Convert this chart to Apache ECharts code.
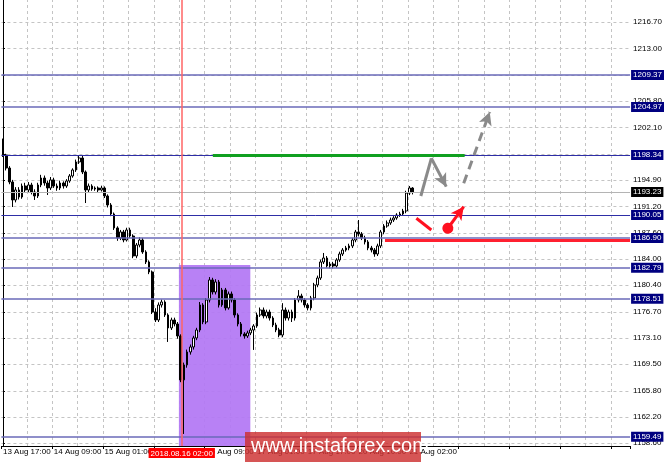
<!DOCTYPE html>
<html><head><meta charset="utf-8">
<script src="https://cdn.jsdelivr.net/npm/echarts@6/dist/echarts.min.js"></script>
<style>html,body{margin:0;padding:0;background:#fff}#c{width:665px;height:462px}</style>
</head><body><div id="c"></div>
<script>
// ---- data (XAUUSD H1) ----
const opens = [
1200.40,1198.33,1196.54,1194.61,1192.13,1193.51,1192.54,1194.06,1193.51,1194.20,
1193.23,1192.68,1194.20,1195.16,1194.47,1193.78,1194.89,1194.06,1193.78,1194.47,
1194.06,1194.75,1195.44,1196.27,1197.37,1197.92,1195.99,1193.51,1194.06,1193.64,
1193.78,1193.51,1193.78,1192.68,1191.44,1190.20,1188.27,1186.89,1187.72,1186.61,
1187.99,1187.16,1184.41,1185.92,1186.61,1184.96,1183.58,1182.20,1176.68,1175.58,
1177.65,1178.06,1176.27,1174.48,1175.58,1175.03,1173.37,1167.31,1169.38,1171.17,
1171.86,1173.10,1174.20,1177.65,1175.30,1178.34,1181.10,1179.44,1180.82,1177.65,
1179.72,1177.24,1179.17,1178.34,1176.27,1175.03,1173.65,1173.37,1173.79,1174.20,
1174.75,1176.27,1176.96,1176.13,1176.68,1175.85,1174.89,1174.20,1173.51,1176.96,
1175.85,1176.68,1175.85,1178.34,1178.89,1178.34,1177.65,1177.24,1178.62,1180.41,
1181.37,1183.58,1184.13,1183.03,1183.30,1183.03,1183.86,1184.68,1185.23,1185.51,
1185.79,1186.61,1187.72,1187.44,1186.89,1186.34,1185.51,1185.23,1184.68,1185.79,
1187.72,1188.54,1188.96,1189.37,1189.65,1190.06,1190.20,1190.61,1193.09,1193.78];
const closes = [
1198.33,1196.54,1194.61,1192.13,1193.51,1192.54,1194.06,1193.51,1194.20,1193.23,
1192.68,1194.20,1195.16,1194.47,1193.78,1194.89,1194.06,1193.78,1194.47,1194.06,
1194.75,1195.44,1196.27,1197.37,1197.92,1195.99,1193.51,1194.06,1193.64,1193.78,
1193.51,1193.78,1192.68,1191.44,1190.20,1188.27,1186.89,1187.72,1186.61,1187.99,
1187.16,1184.41,1185.92,1186.61,1184.96,1183.58,1182.20,1176.68,1175.58,1177.65,
1178.06,1176.27,1174.48,1175.58,1175.03,1173.37,1167.31,1169.38,1171.17,1171.86,
1173.10,1174.20,1177.65,1175.30,1178.34,1181.10,1179.44,1180.82,1177.65,1179.72,
1177.24,1179.17,1178.34,1176.27,1175.03,1173.65,1173.37,1173.79,1174.20,1174.75,
1176.27,1176.96,1176.13,1176.68,1175.85,1174.89,1174.20,1173.51,1176.96,1175.85,
1176.68,1175.85,1178.34,1178.89,1178.34,1177.65,1177.24,1178.62,1180.41,1181.37,
1183.58,1184.13,1183.03,1183.30,1183.03,1183.86,1184.68,1185.23,1185.51,1185.79,
1186.61,1187.72,1187.44,1186.89,1186.34,1185.51,1185.23,1184.68,1185.79,1187.72,
1188.54,1188.96,1189.37,1189.65,1190.06,1190.20,1190.61,1193.09,1193.78,1193.23];
const highs = [
1200.60,1198.50,1196.80,1194.90,1193.90,1193.90,1194.40,1194.50,1194.60,1194.50,
1193.60,1194.50,1195.60,1195.50,1194.80,1195.30,1195.20,1194.40,1194.80,1194.70,
1195.00,1195.70,1196.50,1197.70,1198.33,1198.20,1196.20,1194.40,1194.30,1194.00,
1194.00,1194.10,1194.00,1192.90,1191.70,1190.40,1188.50,1188.00,1188.00,1188.30,
1188.30,1187.40,1186.20,1187.00,1186.90,1185.20,1183.80,1182.40,1177.20,1178.00,
1178.40,1178.30,1176.50,1175.90,1175.90,1175.30,1173.60,1169.70,1171.50,1172.20,
1173.40,1174.50,1178.06,1177.90,1178.60,1181.50,1181.40,1181.20,1181.10,1180.00,
1180.00,1179.50,1179.50,1178.60,1176.50,1175.30,1173.90,1174.10,1174.50,1175.00,
1176.60,1177.30,1177.30,1177.00,1177.00,1176.10,1175.20,1174.50,1177.90,1177.30,
1177.00,1177.00,1178.60,1179.70,1179.20,1178.60,1177.90,1178.90,1180.70,1181.70,
1183.90,1184.82,1184.40,1183.60,1183.60,1184.10,1185.00,1185.50,1185.80,1186.10,
1186.90,1188.00,1189.37,1187.70,1187.20,1186.60,1185.80,1185.50,1186.10,1188.00,
1188.80,1189.30,1189.70,1189.90,1190.30,1190.50,1190.90,1193.40,1194.06,1193.90];
const lows = [
1198.06,1196.20,1194.30,1191.16,1191.80,1192.20,1192.30,1193.10,1193.20,1192.90,
1192.13,1192.40,1193.90,1194.10,1192.82,1193.50,1193.80,1193.40,1193.50,1193.70,
1193.80,1194.50,1195.20,1196.00,1197.10,1195.70,1191.71,1193.20,1193.40,1193.40,
1193.20,1193.30,1192.40,1191.10,1189.90,1188.00,1186.50,1186.60,1186.30,1186.40,
1186.90,1184.10,1184.10,1185.60,1184.70,1183.30,1181.90,1176.40,1175.30,1175.30,
1177.30,1176.00,1172.55,1174.20,1174.70,1173.00,1167.00,1159.86,1169.00,1170.80,
1171.50,1172.80,1173.90,1175.00,1175.00,1178.00,1179.10,1179.10,1177.30,1177.40,
1176.90,1177.00,1178.00,1175.90,1174.70,1173.30,1173.00,1173.10,1173.50,1171.45,
1174.50,1176.00,1175.80,1175.80,1175.50,1174.60,1173.90,1173.20,1173.20,1175.50,
1175.50,1175.30,1175.50,1178.00,1178.00,1177.30,1176.90,1176.90,1178.30,1180.10,
1181.10,1183.30,1182.80,1182.70,1182.70,1182.80,1183.60,1184.40,1185.00,1185.20,
1185.50,1186.30,1187.10,1186.60,1186.00,1185.20,1184.90,1184.30,1184.40,1185.50,
1187.40,1188.30,1188.70,1189.10,1189.40,1189.80,1190.00,1190.30,1192.80,1192.90];

const totalSlots = 198;          // bar slots across the chart (incl. empty future area)
const barsPerLabel = 16;
const barsPerGrid = 8;
const timeTicks = ['13 Aug 17:00','14 Aug 09:00','15 Aug 01:00','15 Aug 17:00','16 Aug 09:00',
                   '17 Aug 01:00','17 Aug 17:00','20 Aug 10:00','21 Aug 02:00'];
const yTicks = [1158.60,1162.20,1165.80,1169.50,1173.10,1176.70,1180.40,1184.00,1187.60,
                1191.20,1194.90,1198.50,1202.10,1205.80,1209.40,1213.00,1216.70];
const yMin = 1158.20, yMax = 1219.71;

const levels      = [1209.37,1204.97,1198.34,1190.05,1186.90,1182.79,1178.51,1159.49];
const levelStrong = [false,  false,  true,   true,   false,  false,  false,  false];
const currentPrice = 1193.23;

const markerBar = 56.3, markerTime = '2018.08.16 02:00';
const zoneBars = [55.4, 77.9], zoneTop = 1183.17;
const greenLevel = 1198.34, greenBars = [66.1, 145.4];
const redLevel = 1186.52, redStartBar = 120.3;
// annotation arrows: [bar, price] points
const zigzagPts = [[131.6,1192.68],[134.9,1197.88],[139.6,1193.97]];
const dashedArrow = [[145.1,1194.43],[153.3,1204.25]];
const redStroke = [[130.2,1189.61],[134.9,1187.99]];
const redArrow = [[140.1,1188.23],[145.1,1191.21]];
const watermark = 'www.instaforex.com';

// ---- chart ----
const FONT = 'Liberation Sans';
const chart = echarts.init(document.getElementById('c'), null, {renderer:'canvas'});
const categories = Array.from({length: totalSlots}, (_, i) => String(i));
const candleData = opens.map((o, i) => [o, closes[i], lows[i], highs[i]]);

const gridStyle = {color: '#c4c4c4', width: 1, type: [3, 3]};
const gridLines = yTicks.map(v => ({yAxis: v, lineStyle: gridStyle}));
for (let k = 1; k * barsPerGrid < totalSlots; k++) {
  gridLines.push({xAxis: k * barsPerGrid - 0.5, lineStyle: gridStyle});
}

const boxLabel = (txt, bg) => ({show: true, position: 'end', distance: 1, formatter: txt,
  backgroundColor: bg, color: '#fff', fontSize: 8, fontFamily: FONT,
  padding: [1, 2, 0, 2], lineHeight: 9});
const levelLines = levels.map((v, k) => ({
  yAxis: v,
  lineStyle: {color: levelStrong[k] ? '#2e2ea6' : '#6a6ab8', width: levelStrong[k] ? 1 : 1.5, type: 'solid'},
  label: boxLabel(v.toFixed(2), '#000080')
}));
levelLines.push({
  yAxis: currentPrice,
  lineStyle: {color: '#b4b4b4', width: 1, type: 'solid'},
  label: boxLabel(currentPrice.toFixed(2), '#000')
});

const seg = (a, b, s0, s1, style) => [
  {coord: a, symbol: s0, symbolSize: 10},
  {coord: b, symbol: s1, symbolSize: [10, 13], lineStyle: style, label: {show: false}}
];
const grayStyle = {color: '#8a8a8a', width: 3, type: 'solid'};
const redStyle = {color: '#ff1020', width: 3, type: 'solid'};

chart.setOption({
  animation: false,
  backgroundColor: '#fff',
  grid: {left: 0, right: 33, top: 0, bottom: 16, containLabel: false},
  xAxis: [{
    type: 'category', data: categories, boundaryGap: true,
    axisLine: {show: true, lineStyle: {color: '#000', width: 1}},
    axisTick: {show: true, interval: barsPerLabel - 1, length: 3, lineStyle: {color: '#000'}},
    axisLabel: {show: true, interval: barsPerLabel - 1, align: 'left', margin: 2,
      fontSize: 8, fontFamily: FONT, color: '#000',
      formatter: (v, idx) => (idx % barsPerLabel === 0 ? (timeTicks[idx / barsPerLabel] || '') : '')},
    splitLine: {show: false}
  }, {
    type: 'value', min: -0.5, max: totalSlots - 0.5, show: false
  }],
  yAxis: [{
    type: 'value', position: 'right', min: yMin, max: yMax, scale: true,
    axisLine: {show: true, lineStyle: {color: '#000', width: 1}},
    axisTick: {show: true, length: 2, customValues: yTicks, lineStyle: {color: '#000'}},
    axisLabel: {show: true, margin: 3, fontSize: 8, fontFamily: FONT, color: '#000',
      customValues: yTicks, formatter: v => v.toFixed(2)},
    splitLine: {show: false}
  }],
  series: [{
    // dashed chart grid
    type: 'line', xAxisIndex: 1, yAxisIndex: 0, data: [], silent: true,
    markLine: {z: 0, silent: true, symbol: 'none', animation: false, label: {show: false},
      data: gridLines}
  }, {
    type: 'line', xAxisIndex: 1, yAxisIndex: 0, data: [], silent: true,
    markArea: {z: 1, silent: true, itemStyle: {color: '#b276f4', opacity: 0.92},
      data: [[{coord: [zoneBars[0], zoneTop]}, {coord: [zoneBars[1], yMin]}]]}
  }, {
    type: 'candlestick', xAxisIndex: 0, yAxisIndex: 0, data: candleData, z: 3,
    barWidth: 2.2,
    itemStyle: {color: '#ffffff', color0: '#000000', borderColor: '#000000', borderColor0: '#000000', borderWidth: 1}
  }, {
    type: 'line', xAxisIndex: 1, yAxisIndex: 0, data: [], silent: true, clip: false,
    markLine: {z: 5, silent: true, symbol: 'none', animation: false,
      data: levelLines.concat([
        {xAxis: markerBar, lineStyle: {color: '#ff6464', width: 1.5, type: 'solid'},
         label: {show: true, position: 'start', distance: 2, formatter: markerTime,
           backgroundColor: '#ff0000', color: '#fff', fontSize: 8, fontFamily: FONT,
           padding: [1, 2, 0, 2], lineHeight: 9}},
        seg([greenBars[0], greenLevel], [greenBars[1], greenLevel], 'none', 'none',
            {color: '#10a020', width: 3, type: 'solid'}),
        seg([redStartBar, redLevel], [totalSlots - 0.5, redLevel], 'none', 'none',
            {color: '#ff2030', width: 3, type: 'solid'}),
        seg(zigzagPts[0], zigzagPts[1], 'none', 'none', grayStyle),
        seg(zigzagPts[1], zigzagPts[2], 'none', 'arrow', grayStyle),
        seg(dashedArrow[0], dashedArrow[1], 'none', 'arrow', {color: '#8a8a8a', width: 3, type: [9, 6]}),
        seg(redStroke[0], redStroke[1], 'none', 'none', redStyle),
        [{coord: redArrow[0], symbol: 'circle', symbolSize: 11},
         {coord: redArrow[1], symbol: 'arrow', symbolSize: [10, 13], lineStyle: redStyle, label: {show: false}}]
      ])
    }
  }],
  graphic: [
    {type: 'rect', left: 245, top: 432, z: 100, zlevel: 1,
     shape: {width: 176, height: 30}, style: {fill: 'rgba(205,48,48,0.82)'}},
    {type: 'text', left: 251, top: 436, z: 101, zlevel: 1,
     style: {text: watermark, fill: '#ffffff', font: '20px "Liberation Sans"'}}
  ]
});
</script></body></html>
